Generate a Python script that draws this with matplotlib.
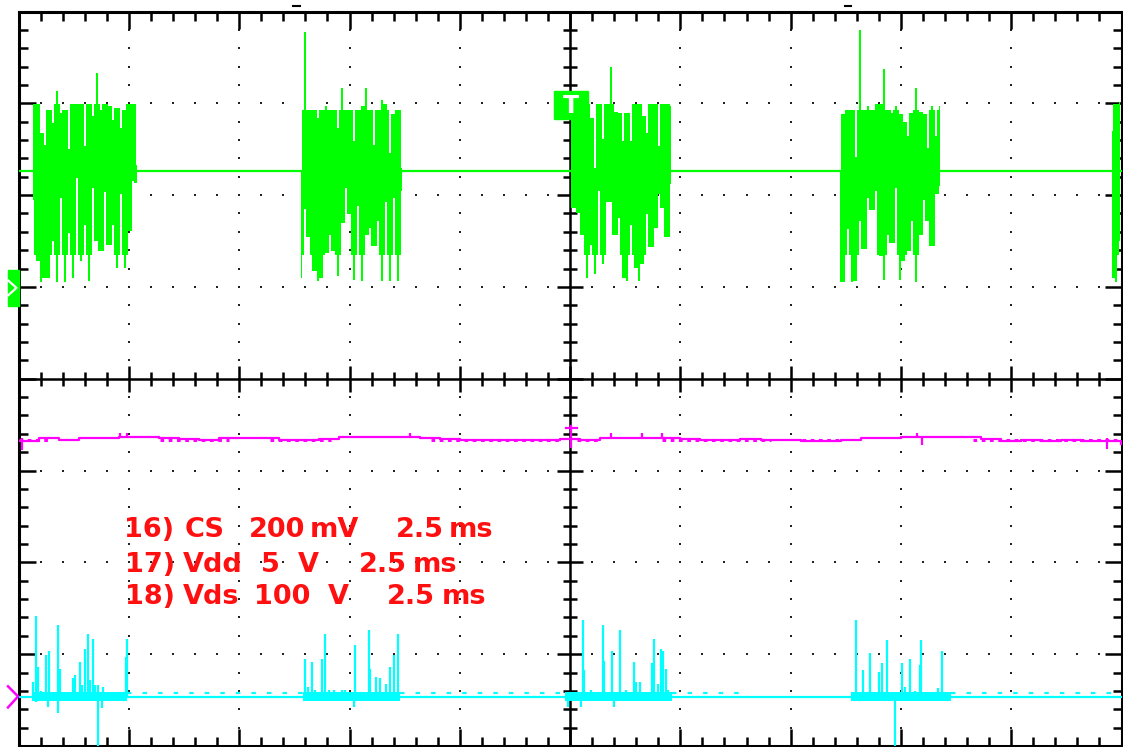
import numpy as np
import matplotlib
matplotlib.use('Agg')
import matplotlib.pyplot as plt
from matplotlib.patches import Rectangle
from matplotlib.ticker import MultipleLocator

# scope screen: 10 x 8 divisions, 2.5 ms/div. all values in divisions

# green trace: baseline + 5 bursts (sampled every GREEN_STEP div)
GREEN_BASE = 2.26
GREEN_STEP = 0.0364
GREEN_T0 = [0.127, 2.564, 5.009, 7.448, 9.918]
GREEN_TOP = [
    [2.99, 2.99, 2.68, 2.55, 2.93, 2.79, 3.13, 2.89, 2.93, 2.50, 2.99, 2.99, 2.99, 2.53,
     2.99, 2.86, 3.33, 2.93, 2.99, 2.97, 2.82, 2.95, 2.73, 2.93, 2.99, 2.99, 2.33],
    [2.26, 3.78, 2.93, 2.93, 2.84, 2.93, 2.97, 2.93, 2.93, 2.73, 3.17, 2.93, 2.93, 2.59,
     2.93, 2.97, 3.17, 2.93, 2.55, 2.93, 3.04, 2.99, 2.46, 2.88, 2.93, 2.30],
    [2.99, 2.99, 2.99, 2.99, 2.99, 2.84, 2.30, 2.99, 2.61, 2.99, 3.40, 2.91, 2.89, 2.59,
     2.89, 2.59, 2.99, 2.99, 2.86, 2.68, 2.99, 2.99, 2.53, 2.99, 2.99, 2.97],
    [2.26, 2.88, 2.93, 2.93, 2.41, 3.80, 2.93, 2.97, 2.93, 2.99, 2.99, 3.37, 2.93, 2.89,
     2.97, 2.88, 2.80, 2.64, 2.89, 3.17, 2.91, 2.88, 2.51, 2.97, 2.64, 2.97],
    [2.70, 2.99, 3.01],
]
GREEN_BOT = [
    [1.95, 1.28, 1.05, 1.10, 1.10, 1.50, 1.05, 1.97, 1.05, 1.59, 1.10, 2.19, 1.28, 1.68,
     1.07, 2.08, 1.50, 1.39, 2.03, 1.46, 1.68, 1.21, 2.01, 1.21, 1.61, 2.15, 2.13],
    [1.10, 1.85, 1.54, 1.17, 1.07, 1.10, 1.37, 1.57, 1.39, 1.12, 1.70, 2.08, 1.79, 1.08,
     1.88, 1.07, 1.57, 1.64, 1.45, 1.72, 1.07, 1.92, 1.07, 1.97, 1.07, 2.04],
    [1.86, 1.86, 1.81, 1.57, 1.10, 1.46, 1.14, 2.04, 1.25, 1.93, 1.92, 1.57, 1.75, 1.10,
     1.07, 1.68, 1.21, 1.07, 1.25, 1.79, 1.43, 1.64, 2.01, 1.86, 1.54, 2.12],
    [1.05, 1.05, 1.63, 1.05, 1.07, 1.72, 1.41, 1.97, 1.84, 2.04, 1.34, 1.08, 1.57, 1.48,
     2.08, 1.08, 1.28, 1.39, 1.72, 1.05, 1.57, 1.95, 1.72, 1.45, 2.01, 2.10],
    [1.10, 1.05, 1.50],
]
# usual upper / lower edge of each burst (the solid part)
GREEN_EDGE_TOP = [2.99, 2.93, 2.99, 2.93, 2.99]
GREEN_EDGE_BOT = [1.35, 1.35, 1.35, 1.35, 1.35]

# magenta trace, one value every MAG_STEP div
MAG_STEP = 0.1818
MAG_V = [-0.68, -0.65, -0.67, -0.64, -0.64, -0.63, -0.63, -0.65, -0.66, -0.67, -0.64, -0.64,
         -0.64, -0.67, -0.67, -0.66, -0.63, -0.63, -0.63, -0.63, -0.64, -0.66, -0.67, -0.67,
         -0.67, -0.67, -0.67, -0.66, -0.67, -0.65, -0.64, -0.64, -0.64, -0.66, -0.67, -0.67,
         -0.66, -0.67, -0.67, -0.68, -0.68, -0.67, -0.65, -0.64, -0.63, -0.63, -0.63, -0.63,
         -0.66, -0.68, -0.67, -0.68, -0.67, -0.68, -0.68, -0.71]
MAG_NOISY = [(0.0, 0.28), (1.28, 1.91), (2.28, 2.83), (3.74, 4.92), (5.06, 5.28),
             (5.83, 6.82), (7.1, 7.46), (8.65, 10.0)]
MAG_GLITCH_X = [0.03, 0.92, 0.98, 3.55, 5.37, 5.65, 5.83, 8.15, 8.19, 9.87]
MAG_GLITCH_Y = [-0.78, -0.59, -0.59, -0.59, -0.59, -0.59, -0.59, -0.59, -0.72, -0.76]

# cyan trace: baseline, up spikes, down spikes
CYAN_BASE = -3.47
CYAN_UP_X = [0.13, 0.155, 0.175, 0.206, 0.245, 0.275, 0.357, 0.373, 0.488, 0.509, 0.555, 0.57,
             0.60, 0.625, 0.645, 0.67, 0.69, 0.72, 0.766, 0.973, 0.985,
             2.60, 2.62, 2.66, 2.69, 2.75, 2.78, 2.81, 2.86, 2.93, 2.96, 3.05, 3.18, 3.19,
             3.24, 3.28, 3.33, 3.37, 3.40, 3.44,
             5.115, 5.13, 5.185, 5.30, 5.31, 5.38, 5.45, 5.51, 5.58, 5.60, 5.63, 5.74, 5.76,
             5.80, 5.82, 5.84, 5.87, 5.89,
             7.59, 7.63, 7.66, 7.72, 7.77, 7.80, 7.83, 7.87, 8.01, 8.04, 8.08, 8.13, 8.17,
             8.18, 8.21, 8.28, 8.34, 8.37, 8.43]
CYAN_UP_Y = [-3.30, -2.58, -3.14, -3.40, -3.01, -2.97, -2.68, -3.16, -3.26, -3.23, -3.08, -3.34,
             -2.94, -2.78, -3.28, -2.83, -3.34, -3.34, -3.36, -3.03, -2.83,
             -3.05, -3.36, -3.08, -3.39, -3.05, -2.78, -3.39, -3.39, -3.39, -3.39, -2.90, -2.74,
             -3.16, -3.25, -3.26, -3.32, -3.14, -3.01, -2.78,
             -2.63, -3.17, -3.39, -2.68, -3.07, -2.97, -2.74, -3.39, -3.08, -3.30, -3.30, -3.10,
             -2.83, -3.32, -2.94, -2.96, -3.16, -3.39,
             -2.63, -3.42, -3.17, -2.99, -3.42, -3.19, -3.10, -2.85, -3.10, -3.36, -3.05, -3.40,
             -3.12, -2.85, -3.42, -3.42, -3.37, -2.97, -3.42]
CYAN_DN_X = [0.16, 0.267, 0.357, 0.715, 0.752, 3.04, 4.98, 5.10, 5.40, 7.95]
CYAN_DN_Y = [-3.52, -3.57, -3.64, -4.1, -3.59, -3.57, -3.57, -3.57, -3.57, -4.1]
CYAN_BODY = [(0.12, 0.98), (2.58, 3.46), (4.95, 5.92), (7.55, 8.45)]
CYAN_NOISY = [(0.98, 2.58), (3.46, 4.95), (5.92, 6.57), (8.45, 10.0)]

# channel readout text
LABEL_WORDS = [
    ['16)', 'CS', '200', 'mV', '2.5', 'ms'],
    ['17)', 'Vdd', '5', 'V', '2.5', 'ms'],
    ['18)', 'Vds', '100', 'V', '2.5', 'ms'],
]
LABEL_X = [
    [1.180, 1.682, 2.345, 2.864, 3.636, 4.100],
    [1.189, 1.759, 2.286, 2.623, 3.305, 3.773],
    [1.189, 1.741, 2.391, 2.895, 3.555, 4.036],
]
LABEL_Y = [-1.725, -2.105, -2.449]

GREEN = '#00ff00'
CYAN = '#00ffff'
MAGENTA = '#ff00ff'


def half_steps(t, v, edge):
    # insert a point between samples; it keeps the usual edge unless both
    # neighbours sit on the same side of it, so notches and spikes stay thin
    v = np.asarray(v, float)
    mid = np.median(np.vstack([v[:-1], v[1:], np.full(len(v) - 1, edge)]), axis=0)
    tt = np.empty(2 * len(v) - 1)
    vv = np.empty(2 * len(v) - 1)
    tt[0::2] = t
    tt[1::2] = (t[:-1] + t[1:]) / 2
    vv[0::2] = v
    vv[1::2] = mid
    return tt, vv


fig = plt.figure(figsize=(11.23, 7.47), dpi=100)
ax = fig.add_axes([18.7 / 1123, 1 / 747, 1102.8 / 1123, 734.5 / 747])
ax.set_xlim(0, 10)
ax.set_ylim(-4, 4)

####################### graticule ##############################
for s in ax.spines.values():
    s.set_linewidth(2.2)
ax.xaxis.set_major_locator(MultipleLocator(1))
ax.xaxis.set_minor_locator(MultipleLocator(0.2))
ax.yaxis.set_major_locator(MultipleLocator(1))
ax.yaxis.set_minor_locator(MultipleLocator(0.2))
ax.tick_params(which='both', direction='in', top=True, right=True,
               labelbottom=False, labelleft=False, width=1.8)
ax.tick_params(which='major', length=12.5)
ax.tick_params(which='minor', length=6.5)

minor = np.round(np.arange(0.2, 10, 0.2), 2)
minor_y = np.round(np.arange(-3.8, 4, 0.2), 2)
for gx in [1, 2, 3, 4, 6, 7, 8, 9]:
    ax.plot(np.full_like(minor_y, gx), minor_y, 's', ms=1.7, color='#222222', mew=0, zorder=1)
for gy in [-3, -2, -1, 1, 2, 3]:
    ax.plot(minor, np.full_like(minor, gy), 's', ms=1.7, color='#222222', mew=0, zorder=1)

# centre cross with ticks on both sides
ax.axhline(0, color='black', lw=1.8, zorder=1)
ax.axvline(5, color='black', lw=1.8, zorder=1)
is_major_x = np.isclose(minor, np.round(minor))
is_major_y = np.isclose(minor_y, np.round(minor_y))
ax.plot(minor[~is_major_x], np.zeros((~is_major_x).sum()), '|', ms=10.5, mew=1.8, color='black', zorder=1)
ax.plot(minor[is_major_x], np.zeros(is_major_x.sum()), '|', ms=18.5, mew=1.8, color='black', zorder=1)
ax.plot(np.full((~is_major_y).sum(), 5.0), minor_y[~is_major_y], '_', ms=10.5, mew=1.8, color='black', zorder=1)
ax.plot(np.full(is_major_y.sum(), 5.0), minor_y[is_major_y], '_', ms=18.5, mew=1.8, color='black', zorder=1)

####################### traces ##############################
ax.plot([0, 10], [GREEN_BASE, GREEN_BASE], color=GREEN, lw=1.6, zorder=3)
for t0, top, bot, et, eb in zip(GREEN_T0, GREEN_TOP, GREEN_BOT, GREEN_EDGE_TOP, GREEN_EDGE_BOT):
    t = t0 + GREEN_STEP * np.arange(len(top))
    tt, vt = half_steps(t, top, et)
    _, vb = half_steps(t, bot, eb)
    ax.fill_between(tt, vb, vt, step='mid', color=GREEN, lw=0, zorder=3)

mag_t = MAG_STEP * np.arange(len(MAG_V))
ax.step(mag_t, MAG_V, where='post', color=MAGENTA, lw=1.6, zorder=3)
for a, b in MAG_NOISY:
    ax.plot([a, b], [-0.67, -0.67], color=MAGENTA, lw=2.2, ls=(0, (1.2, 1.5)), zorder=3)
ax.vlines(MAG_GLITCH_X, -0.64, MAG_GLITCH_Y, color=MAGENTA, lw=1.6, zorder=3)
ax.plot([5.01, 5.01], [-0.52, -0.74], color=MAGENTA, lw=1.6, zorder=4)
ax.plot([4.96, 5.06], [-0.54, -0.54], color=MAGENTA, lw=1.6, zorder=4)

ax.plot([0, 10], [CYAN_BASE, CYAN_BASE], color=CYAN, lw=1.6, zorder=3)
for a, b in CYAN_BODY:
    ax.fill_between([a, b], -3.51, -3.41, color=CYAN, lw=0, zorder=3)
for a, b in CYAN_NOISY:
    ax.plot([a, b], [-3.42, -3.42], color=CYAN, lw=1.6, ls=(0, (2, 5)), zorder=3)
ax.vlines(CYAN_UP_X, CYAN_BASE, CYAN_UP_Y, color=CYAN, lw=1.6, zorder=3)
ax.vlines(CYAN_DN_X, CYAN_BASE, CYAN_DN_Y, color=CYAN, lw=1.6, zorder=3)

####################### markers ##############################
ax.add_patch(Rectangle((4.85, 2.83), 0.31, 0.30, color=GREEN, zorder=6))
ax.text(5.005, 2.975, 'T', color='white', fontsize=17, fontweight='bold',
        ha='center', va='center', zorder=7)
ax.add_patch(Rectangle((-0.1, 0.79), 0.1, 0.39, color=GREEN, zorder=6, clip_on=False))
ax.plot([-0.095, -0.02, -0.095], [1.07, 0.99, 0.91], color='white', lw=1.6, zorder=7, clip_on=False)
ax.plot([-0.097, -0.006, -0.097], [-3.35, -3.46, -3.58], color=MAGENTA, lw=1.8, zorder=7, clip_on=False)
for mx in [2.52, 7.52]:
    ax.plot([mx - 0.03, mx + 0.03], [4.06, 4.06], color='black', lw=1.5, clip_on=False)

for words, xs, y in zip(LABEL_WORDS, LABEL_X, LABEL_Y):
    for w, x in zip(words, xs):
        ax.text(x, y, w, color='#ff1010', fontsize=19.5, fontweight='bold',
                family='DejaVu Sans', ha='center', va='baseline', zorder=8)

fig.savefig('out.png', dpi=100)
